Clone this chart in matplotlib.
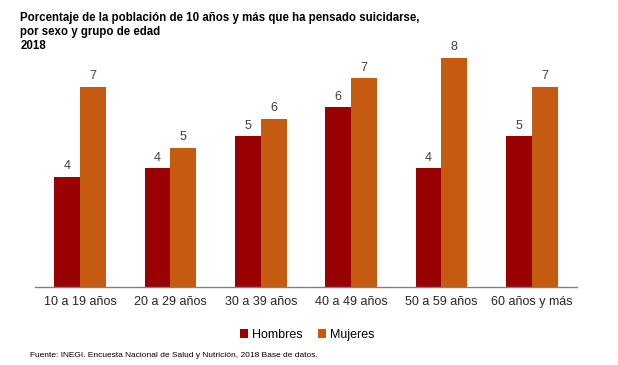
import numpy as np
import matplotlib.pyplot as plt

plt.rcParams['font.family'] = ['Liberation Sans', 'DejaVu Sans']

# Datos
grupos = ["10 a 19 años", "20 a 29 años", "30 a 39 años",
          "40 a 49 años", "50 a 59 años", "60 años y más"]
hombres = [3.8, 4.1, 5.2, 6.2, 4.1, 5.2]
mujeres = [6.9, 4.8, 5.8, 7.2, 7.9, 6.9]

col_h = "#990000"
col_m = "#C55A11"

fig = plt.figure(figsize=(6.18, 3.65), dpi=100)
ax = fig.add_axes([0.0566, 0.2145, 0.877, 0.715])

x = np.arange(len(grupos))
w = 0.285
b1 = ax.bar(x - w / 2, hombres, w, color=col_h, label="Hombres")
b2 = ax.bar(x + w / 2, mujeres, w, color=col_m, label="Mujeres")

for bars, vals in [(b1, hombres), (b2, mujeres)]:
    for r, v in zip(bars, vals):
        ax.annotate(f"{v:.0f}", (r.get_x() + r.get_width() / 2, v),
                    xytext=(0, 3), textcoords="offset points",
                    ha="center", va="bottom", fontsize=9, color="#404040")

ax.set_xlim(-0.5, len(grupos) - 0.5)
ax.set_ylim(0, 9)
ax.set_yticks([])
ax.set_xticks(x)
ax.set_xticklabels(grupos, fontsize=9, color="#262626")
ax.tick_params(axis="x", length=0, pad=7)
for s in ["top", "right", "left"]:
    ax.spines[s].set_visible(False)
ax.spines["bottom"].set_color("#808080")
ax.spines["bottom"].set_linewidth(1)

fig.text(0.033, 0.968, "Porcentaje de la población de 10 años y más que ha pensado suicidarse,\n"
         "por sexo y grupo de edad\n2018", fontsize=8.3, fontweight="bold",
         va="top", ha="left", linespacing=1.25)

fig.legend(handles=[b1, b2], loc="center", bbox_to_anchor=(0.497, 0.082),
           ncol=2, frameon=False, fontsize=9, handlelength=0.7,
           handleheight=0.7, handletextpad=0.3, columnspacing=1.2)

fig.text(0.049, 0.027, "Fuente: INEGI. Encuesta Nacional de Salud y Nutrición, 2018 Base de datos.",
         fontsize=6, ha="left", va="center")

fig.savefig("out.png", dpi=100)
